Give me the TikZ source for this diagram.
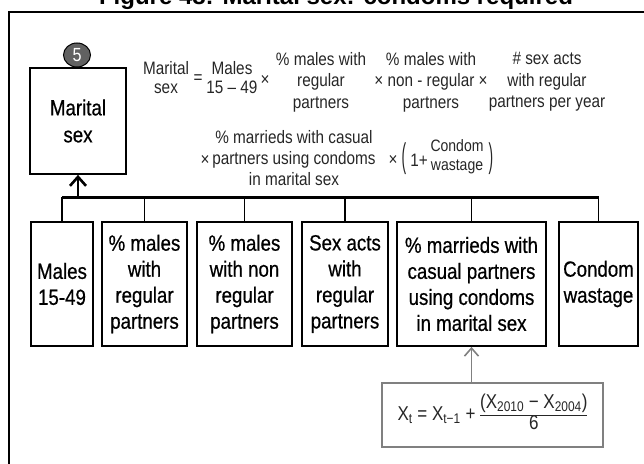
\documentclass[tikz,border=0pt]{standalone}
\usepackage{fontspec}
\setmainfont[FakeStretch=0.85]{Liberation Sans}
\newfontfamily\boxfont[FakeStretch=0.85, FakeBold=0.6]{Liberation Sans}
\newfontfamily\titlefont{Liberation Sans}
\usetikzlibrary{arrows.meta, shapes.geometric}
\tikzset{
  factor/.style={draw, line width=1.8pt, minimum height=124pt, inner sep=0pt, align=center, font=\boxfont\fontsize{22}{26}\selectfont},
  eqtext/.style={align=center, inner sep=0pt, text=black!85, font=\fontsize{18}{21.5}\selectfont},
}
\begin{document}
\begin{tikzpicture}[x=1pt, y=-1pt, every node/.style={text=black}]
    \useasboundingbox (0,0) rectangle (644,463);
    \clip (0,0) rectangle (644,463);
    \node[anchor=base, font=\titlefont\bfseries\fontsize{24}{24}\selectfont] (title) at (336,5) {Figure 48: Marital sex: condoms required};
    \draw[line width=1.8pt] (9,470) -- (9,12) -- (650,12);
    \node[draw, line width=1.8pt, minimum width=96pt, minimum height=106pt, align=center, font=\boxfont\fontsize{22}{27}\selectfont] (msex) at (78,121) {Marital\\sex};
    \node[ellipse, draw, line width=1pt, fill=black!62, text=white, inner sep=0pt, minimum width=27pt, minimum height=24pt, font=\fontsize{19}{19}\selectfont] (num) at (77,55) {5};
    \node[eqtext, font=\fontsize{18}{19}\selectfont] (lhs) at (166,78) {Marital\\sex};
    \node[eqtext] (eq) at (198,79) {=};
    \node[eqtext, font=\fontsize{18}{19}\selectfont] (males15) at (232,78) {Males\\15 – 49};
    \node[eqtext] (x1) at (265,80) {×};
    \node[eqtext] (regtext) at (321,82) {\% males with\\regular\\partners};
    \node[eqtext] (nontext) at (431,82) {\% males with\\× non - regular ×\\partners};
    \node[eqtext] (actstext) at (547,82) {\# sex acts\\with regular\\partners per year};
    \node[eqtext] (x2) at (205,160) {×};
    \node[eqtext, font=\fontsize{18}{21}\selectfont] (casualtext) at (294,158) {\% marrieds with casual\\partners using condoms\\in marital sex};
    \node[eqtext] (x3) at (393,160) {×};
    \node[eqtext] (lpar) at (404,159) {\scalebox{0.9}[1.9]{(}};
    \node[eqtext] (onep) at (419,160) {1+};
    \node[eqtext, font=\fontsize{16.5}{19}\selectfont] (wastetext) at (457,157) {Condom\\wastage};
    \node[eqtext] (rpar) at (491,159) {\scalebox{0.9}[1.9]{)}};
    \node[factor, minimum width=62pt] (males) at (62,284) {Males\\15-49};
    \node[factor, minimum width=85pt] (mreg) at (144.5,284) {\% males\\with\\regular\\partners};
    \node[factor, minimum width=95pt] (mnon) at (244.5,284) {\% males\\with non\\regular\\partners};
    \node[factor, minimum width=86pt] (acts) at (345,284) {Sex acts\\with\\regular\\partners};
    \node[factor, minimum width=149pt] (casual) at (471.5,284) {\% marrieds with\\casual partners\\using condoms\\in marital sex};
    \node[factor, minimum width=79pt] (waste) at (598.5,284) {Condom\\wastage};
    \node[draw=black!50, line width=1.6pt, minimum width=221pt, minimum height=64pt, text=black!85, font=\fontsize{20}{21}\selectfont] (calc) at (492.5,415) {X\textsubscript{t} = X\textsubscript{t−1} + \begin{tabular}{@{}c@{}}(X\textsubscript{2010} − X\textsubscript{2004})\\\hline 6\end{tabular}};
    \coordinate (bus) at (78,197);
    \draw[line width=3pt] (males.north |- bus) -- (waste.north |- bus);
    \draw[line width=1.8pt] (males.north) -- (males.north |- bus);
    \draw[line width=1.8pt] (mreg.north) -- (mreg.north |- bus);
    \draw[line width=1.8pt] (mnon.north) -- (mnon.north |- bus);
    \draw[line width=1.8pt] (acts.north) -- (acts.north |- bus);
    \draw[line width=1.8pt] (casual.north) -- (casual.north |- bus);
    \draw[line width=1.8pt] (waste.north) -- (waste.north |- bus);
    \draw[line width=2.6pt, -{Straight Barb[length=9pt, width=16pt]}] (bus) -- (msex.south);
    \draw[black!50, line width=1.6pt, -{Straight Barb[length=8pt, width=14pt]}] (calc.north -| casual.south) -- (casual.south);
  \end{tikzpicture}
\end{document}
